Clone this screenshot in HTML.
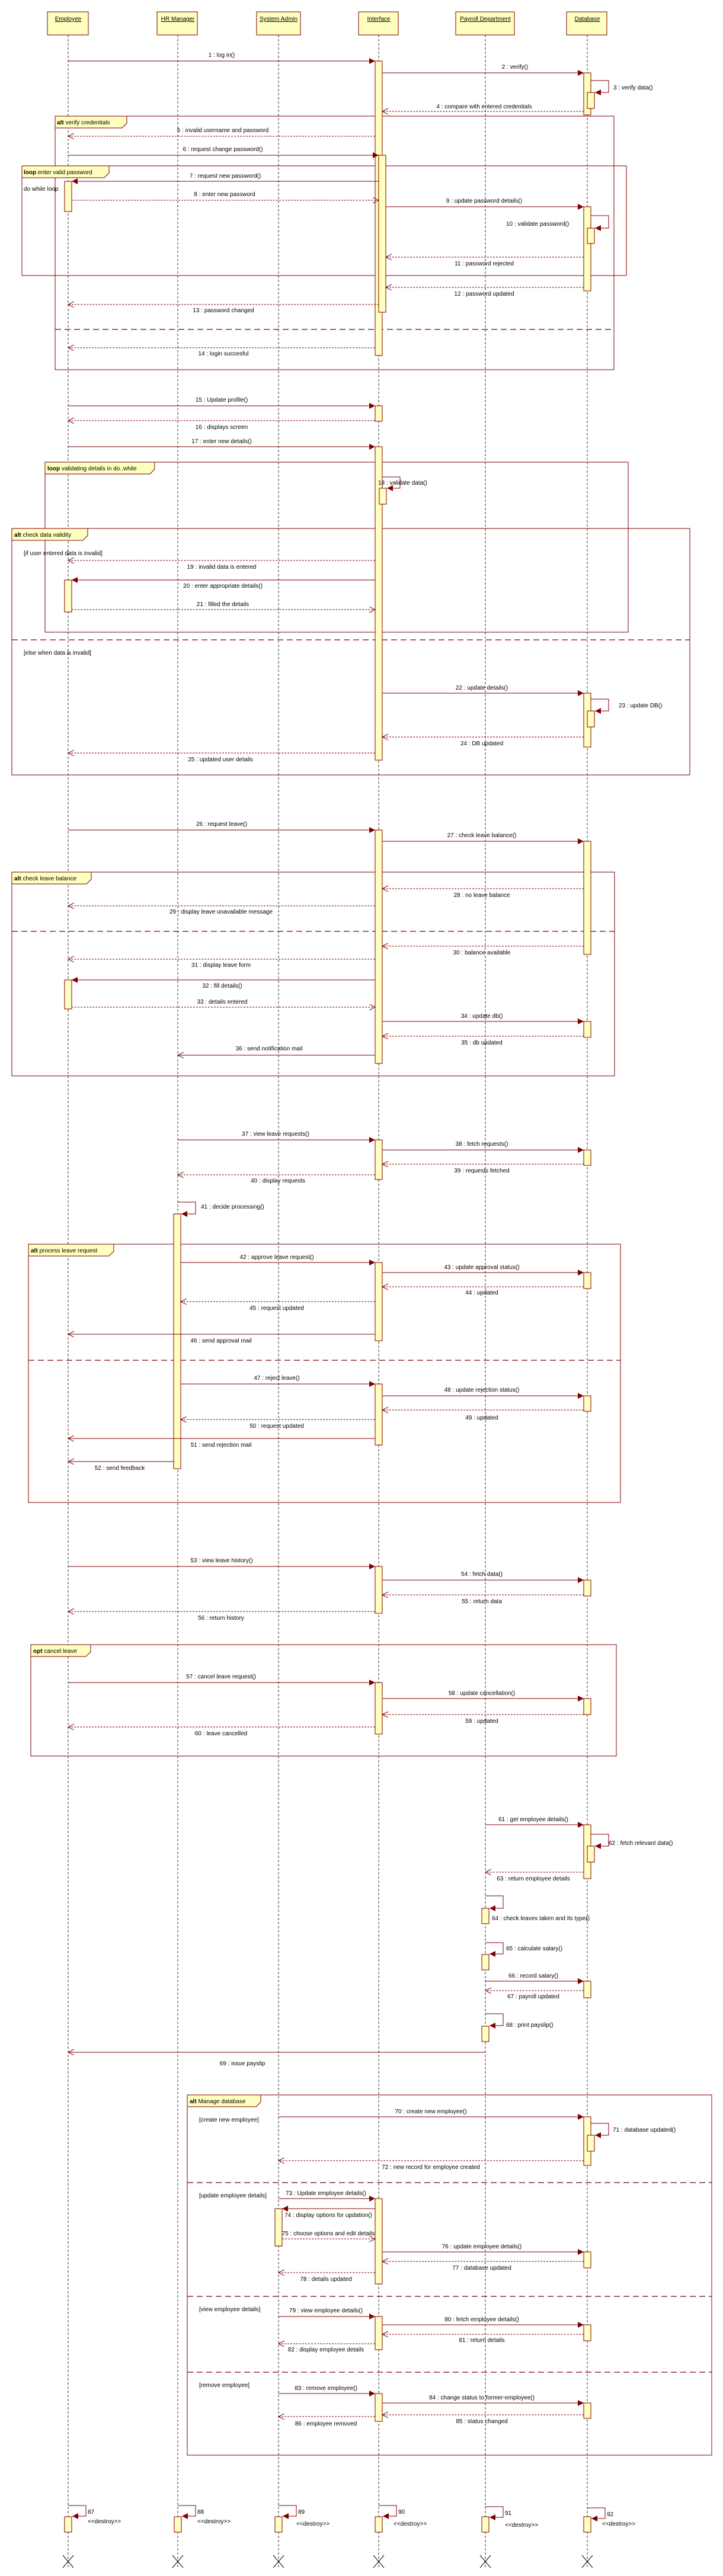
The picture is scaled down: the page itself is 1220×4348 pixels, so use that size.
<!DOCTYPE html>
<html><head><meta charset="utf-8"><style>
html,body{margin:0;padding:0;background:#fff}
svg{display:block}
text{font-family:"Liberation Sans",sans-serif;font-size:10px;fill:#000}
.t{text-anchor:middle}
.b{font-weight:bold}
.s{stroke:#800000;stroke-width:1;fill:none}
.r{stroke:#800000;stroke-width:1;fill:none;stroke-dasharray:3,2}
.ll{stroke:#000;stroke-width:0.8;stroke-dasharray:4,3}
.a{fill:#ffffc0;stroke:#800000;stroke-width:1}
.f{stroke:#800000;stroke-width:1;fill:none}
.dv{stroke:#800000;stroke-width:1.2;stroke-dasharray:10,6}
.tab{fill:#ffffc0;stroke:#800000;stroke-width:1}
</style></head><body>
<svg width="1220" height="4348" viewBox="0 0 1220 4348" xmlns="http://www.w3.org/2000/svg">
<defs>
<marker id="fa" markerUnits="userSpaceOnUse" markerWidth="12" markerHeight="12" refX="10" refY="5" orient="auto"><path d="M0,0 L10,5 L0,10 z" fill="#800000"/></marker>
<marker id="oa" markerUnits="userSpaceOnUse" markerWidth="12" markerHeight="12" refX="10" refY="5" orient="auto"><path d="M0,0 L10,5 L0,10" fill="none" stroke="#800000"/></marker>
</defs>

<g class="ll">
<line x1="115" y1="59" x2="115" y2="4334"/><line x1="300" y1="59" x2="300" y2="4334"/><line x1="470" y1="59" x2="470" y2="4334"/><line x1="639" y1="59" x2="639" y2="4334"/><line x1="819" y1="59" x2="819" y2="4334"/><line x1="991" y1="59" x2="991" y2="4334"/>
</g>

<g>
<rect class="a" x="80" y="20" width="69" height="39"/><text class="t" x="115" y="35" text-decoration="underline">Employee</text>
<rect class="a" x="265" y="20" width="68" height="39"/><text class="t" x="300" y="35" text-decoration="underline">HR Manager</text>
<rect class="a" x="433" y="20" width="74" height="39"/><text class="t" x="470" y="35" text-decoration="underline">System Admin</text>
<rect class="a" x="605" y="20" width="67" height="39"/><text class="t" x="639" y="35" text-decoration="underline">Interface</text>
<rect class="a" x="769" y="20" width="99" height="39"/><text class="t" x="819" y="35" text-decoration="underline">Payroll Department</text>
<rect class="a" x="956" y="20" width="68" height="39"/><text class="t" x="991" y="35" text-decoration="underline">Database</text>
</g>

<g>
<rect class="f" x="93" y="196" width="943" height="428"/><path class="tab" d="M93,196 H214 V208 L206,216 H93 z"/><text x="96" y="210"><tspan class="b">alt</tspan> verify credentials</text>
<line class="dv" x1="93" y1="556" x2="1036" y2="556"/>
<rect class="f" x="37" y="280" width="1020" height="185"/><path class="tab" d="M37,280 H184 V292 L176,300 H37 z"/><text x="40" y="294"><tspan class="b">loop</tspan> enter valid password</text>
<text x="40" y="322">do while loop</text>
<rect class="f" x="76" y="780" width="984" height="287"/><path class="tab" d="M76,780 H261 V792 L253,800 H76 z"/><text x="80" y="794"><tspan class="b">loop</tspan> validating details in do..while</text>
<rect class="f" x="20" y="892" width="1144" height="416"/><path class="tab" d="M20,892 H148 V904 L140,912 H20 z"/><text x="24" y="906"><tspan class="b">alt</tspan> check data validity</text>
<line class="dv" x1="20" y1="1080" x2="1164" y2="1080"/>
<text x="40" y="937">[if user entered data is invalid]</text>
<text x="40" y="1105">[else when data is invalid]</text>
<rect class="f" x="20" y="1472" width="1017" height="344"/><path class="tab" d="M20,1472 H154 V1484 L146,1492 H20 z"/><text x="24" y="1486"><tspan class="b">alt</tspan> check leave balance</text>
<line class="dv" x1="20" y1="1572" x2="1037" y2="1572"/>
<rect class="f" x="48" y="2100" width="999" height="436"/><path class="tab" d="M48,2100 H192 V2112 L184,2120 H48 z"/><text x="52" y="2114"><tspan class="b">alt</tspan> process leave request</text>
<line class="dv" x1="48" y1="2296" x2="1047" y2="2296"/>
<rect class="f" x="52" y="2776" width="988" height="188"/><path class="tab" d="M52,2776 H153 V2788 L145,2796 H52 z"/><text x="56" y="2790"><tspan class="b">opt</tspan> cancel leave</text>
<rect class="f" x="316" y="3536" width="885" height="608"/><path class="tab" d="M316,3536 H440 V3548 L432,3556 H316 z"/><text x="320" y="3550"><tspan class="b">alt</tspan> Manage database</text>
<line class="dv" x1="316" y1="3684" x2="1201" y2="3684"/><line class="dv" x1="316" y1="3876" x2="1201" y2="3876"/><line class="dv" x1="316" y1="4004" x2="1201" y2="4004"/>
<text x="336" y="3581">[create new employee]</text><text x="336" y="3709">[update employee details]</text><text x="336" y="3901">[view employee details]</text><text x="336" y="4029">[remove employee]</text>
</g>

<g class="a">
<rect x="633" y="103" width="12" height="497"/>
<rect x="985" y="123" width="12" height="71"/><rect x="991" y="156" width="12" height="27"/>
<rect x="639" y="262" width="12" height="265"/>
<rect x="109" y="306" width="12" height="51"/>
<rect x="985" y="349" width="12" height="142"/><rect x="991" y="385" width="12" height="26"/>
<rect x="633" y="685" width="12" height="26"/>
<rect x="633" y="754" width="12" height="529"/><rect x="640" y="824" width="12" height="27"/>
<rect x="109" y="979" width="12" height="54"/>
<rect x="985" y="1170" width="12" height="91"/><rect x="991" y="1200" width="12" height="27"/>
<rect x="633" y="1401" width="12" height="394"/>
<rect x="985" y="1420" width="12" height="191"/>
<rect x="109" y="1654" width="12" height="49"/>
<rect x="985" y="1724" width="12" height="27"/>
<rect x="633" y="1924" width="12" height="67"/>
<rect x="985" y="1941" width="12" height="26"/>
<rect x="293" y="2049" width="12" height="430"/>
<rect x="633" y="2131" width="12" height="132"/>
<rect x="985" y="2148" width="12" height="27"/>
<rect x="633" y="2336" width="12" height="103"/>
<rect x="985" y="2356" width="12" height="26"/>
<rect x="633" y="2644" width="12" height="79"/>
<rect x="985" y="2667" width="12" height="27"/>
<rect x="633" y="2840" width="12" height="87"/>
<rect x="985" y="2867" width="12" height="27"/>
<rect x="985" y="3080" width="12" height="91"/><rect x="991" y="3116" width="12" height="27"/>
<rect x="813" y="3221" width="12" height="26"/>
<rect x="813" y="3299" width="12" height="26"/>
<rect x="985" y="3344" width="12" height="28"/>
<rect x="813" y="3420" width="12" height="26"/>
<rect x="985" y="3573" width="12" height="82"/><rect x="991" y="3604" width="12" height="27"/>
<rect x="633" y="3711" width="12" height="144"/>
<rect x="464" y="3728" width="12" height="63"/>
<rect x="985" y="3801" width="12" height="27"/>
<rect x="633" y="3910" width="12" height="56"/>
<rect x="985" y="3924" width="12" height="27"/>
<rect x="633" y="4040" width="12" height="47"/>
<rect x="985" y="4056" width="12" height="26"/>
<rect x="109" y="4248" width="12" height="26"/><rect x="294" y="4248" width="12" height="26"/><rect x="464" y="4248" width="12" height="26"/><rect x="633" y="4248" width="12" height="26"/><rect x="813" y="4248" width="12" height="26"/><rect x="985" y="4248" width="12" height="26"/>
</g>

<g class="s">
<path d="M997,136 H1027 V156 H1004" marker-end="url(#fa)"/>
<path d="M997,364 H1027 V385 H1004" marker-end="url(#fa)"/>
<path d="M645,805 H675 V824 H653" marker-end="url(#fa)"/>
<path d="M997,1180 H1027 V1200 H1004" marker-end="url(#fa)"/>
<path d="M300,2029 H330 V2049 H306" marker-end="url(#fa)"/>
<path d="M997,3096 H1027 V3116 H1004" marker-end="url(#fa)"/>
<path d="M819,3200 H849 V3221 H826" marker-end="url(#fa)"/>
<path d="M819,3279 H849 V3298 H826" marker-end="url(#fa)"/>
<path d="M819,3399 H849 V3419 H826" marker-end="url(#fa)"/>
<path d="M997,3584 H1027 V3604 H1004" marker-end="url(#fa)"/>
<path d="M115,4229 H145 V4247 H122" marker-end="url(#fa)"/>
<path d="M300,4229 H330 V4247 H307" marker-end="url(#fa)"/>
<path d="M470,4229 H500 V4247 H477" marker-end="url(#fa)"/>
<path d="M639,4229 H669 V4247 H646" marker-end="url(#fa)"/>
<path d="M819,4231 H849 V4249 H826" marker-end="url(#fa)"/>
<path d="M991,4233 H1021 V4251 H998" marker-end="url(#fa)"/>
</g>

<g class="s">
<line x1="115" y1="103" x2="633" y2="103" marker-end="url(#fa)"/>
<line x1="645" y1="123" x2="985" y2="123" marker-end="url(#fa)"/>
<line x1="115" y1="262" x2="639" y2="262" marker-end="url(#fa)"/>
<line x1="639" y1="306" x2="121" y2="306" marker-end="url(#fa)"/>
<line x1="651" y1="349" x2="985" y2="349" marker-end="url(#fa)"/>
<line x1="115" y1="685" x2="633" y2="685" marker-end="url(#fa)"/>
<line x1="115" y1="754" x2="633" y2="754" marker-end="url(#fa)"/>
<line x1="633" y1="979" x2="121" y2="979" marker-end="url(#fa)"/>
<line x1="645" y1="1170" x2="985" y2="1170" marker-end="url(#fa)"/>
<line x1="115" y1="1401" x2="633" y2="1401" marker-end="url(#fa)"/>
<line x1="645" y1="1420" x2="985" y2="1420" marker-end="url(#fa)"/>
<line x1="633" y1="1654" x2="121" y2="1654" marker-end="url(#fa)"/>
<line x1="645" y1="1724" x2="985" y2="1724" marker-end="url(#fa)"/>
<line x1="633" y1="1781" x2="300" y2="1781" marker-end="url(#oa)"/>
<line x1="300" y1="1924" x2="633" y2="1924" marker-end="url(#fa)"/>
<line x1="645" y1="1941" x2="985" y2="1941" marker-end="url(#fa)"/>
<line x1="305" y1="2131" x2="633" y2="2131" marker-end="url(#fa)"/>
<line x1="645" y1="2148" x2="985" y2="2148" marker-end="url(#fa)"/>
<line x1="633" y1="2252" x2="115" y2="2252" marker-end="url(#oa)"/>
<line x1="305" y1="2336" x2="633" y2="2336" marker-end="url(#fa)"/>
<line x1="645" y1="2356" x2="985" y2="2356" marker-end="url(#fa)"/>
<line x1="633" y1="2428" x2="115" y2="2428" marker-end="url(#oa)"/>
<line x1="293" y1="2467" x2="115" y2="2467" marker-end="url(#oa)"/>
<line x1="115" y1="2644" x2="633" y2="2644" marker-end="url(#fa)"/>
<line x1="645" y1="2667" x2="985" y2="2667" marker-end="url(#fa)"/>
<line x1="115" y1="2840" x2="633" y2="2840" marker-end="url(#fa)"/>
<line x1="645" y1="2867" x2="985" y2="2867" marker-end="url(#fa)"/>
<line x1="819" y1="3080" x2="985" y2="3080" marker-end="url(#fa)"/>
<line x1="819" y1="3344" x2="985" y2="3344" marker-end="url(#fa)"/>
<line x1="819" y1="3464" x2="115" y2="3464" marker-end="url(#oa)"/>
<line x1="470" y1="3573" x2="985" y2="3573" marker-end="url(#fa)"/>
<line x1="470" y1="3711" x2="633" y2="3711" marker-end="url(#fa)"/>
<line x1="633" y1="3728" x2="476" y2="3728" marker-end="url(#fa)"/>
<line x1="645" y1="3801" x2="985" y2="3801" marker-end="url(#fa)"/>
<line x1="470" y1="3910" x2="633" y2="3910" marker-end="url(#fa)"/>
<line x1="645" y1="3924" x2="985" y2="3924" marker-end="url(#fa)"/>
<line x1="470" y1="4040" x2="633" y2="4040" marker-end="url(#fa)"/>
<line x1="645" y1="4056" x2="985" y2="4056" marker-end="url(#fa)"/>
</g>

<g class="r">
<line x1="985" y1="188" x2="645" y2="188" marker-end="url(#oa)"/>
<line x1="633" y1="230" x2="115" y2="230" marker-end="url(#oa)"/>
<line x1="121" y1="338" x2="639" y2="338" marker-end="url(#oa)"/>
<line x1="985" y1="434" x2="651" y2="434" marker-end="url(#oa)"/>
<line x1="985" y1="485" x2="651" y2="485" marker-end="url(#oa)"/>
<line x1="639" y1="514" x2="115" y2="514" marker-end="url(#oa)"/>
<line x1="633" y1="587" x2="115" y2="587" marker-end="url(#oa)"/>
<line x1="633" y1="710" x2="115" y2="710" marker-end="url(#oa)"/>
<line x1="633" y1="946" x2="115" y2="946" marker-end="url(#oa)"/>
<line x1="121" y1="1029" x2="633" y2="1029" marker-end="url(#oa)"/>
<line x1="985" y1="1244" x2="645" y2="1244" marker-end="url(#oa)"/>
<line x1="633" y1="1271" x2="115" y2="1271" marker-end="url(#oa)"/>
<line x1="985" y1="1500" x2="645" y2="1500" marker-end="url(#oa)"/>
<line x1="633" y1="1529" x2="115" y2="1529" marker-end="url(#oa)"/>
<line x1="985" y1="1597" x2="645" y2="1597" marker-end="url(#oa)"/>
<line x1="633" y1="1619" x2="115" y2="1619" marker-end="url(#oa)"/>
<line x1="121" y1="1700" x2="633" y2="1700" marker-end="url(#oa)"/>
<line x1="985" y1="1749" x2="645" y2="1749" marker-end="url(#oa)"/>
<line x1="985" y1="1965" x2="645" y2="1965" marker-end="url(#oa)"/>
<line x1="633" y1="1983" x2="300" y2="1983" marker-end="url(#oa)"/>
<line x1="985" y1="2172" x2="645" y2="2172" marker-end="url(#oa)"/>
<line x1="633" y1="2197" x2="305" y2="2197" marker-end="url(#oa)"/>
<line x1="985" y1="2380" x2="645" y2="2380" marker-end="url(#oa)"/>
<line x1="633" y1="2396" x2="305" y2="2396" marker-end="url(#oa)"/>
<line x1="985" y1="2692" x2="645" y2="2692" marker-end="url(#oa)"/>
<line x1="633" y1="2720" x2="115" y2="2720" marker-end="url(#oa)"/>
<line x1="985" y1="2894" x2="645" y2="2894" marker-end="url(#oa)"/>
<line x1="633" y1="2915" x2="115" y2="2915" marker-end="url(#oa)"/>
<line x1="985" y1="3160" x2="819" y2="3160" marker-end="url(#oa)"/>
<line x1="985" y1="3360" x2="819" y2="3360" marker-end="url(#oa)"/>
<line x1="985" y1="3647" x2="470" y2="3647" marker-end="url(#oa)"/>
<line x1="476" y1="3779" x2="633" y2="3779" marker-end="url(#oa)"/>
<line x1="985" y1="3817" x2="645" y2="3817" marker-end="url(#oa)"/>
<line x1="633" y1="3836" x2="470" y2="3836" marker-end="url(#oa)"/>
<line x1="985" y1="3940" x2="645" y2="3940" marker-end="url(#oa)"/>
<line x1="633" y1="3956" x2="470" y2="3956" marker-end="url(#oa)"/>
<line x1="985" y1="4076" x2="645" y2="4076" marker-end="url(#oa)"/>
<line x1="633" y1="4079" x2="470" y2="4079" marker-end="url(#oa)"/>
</g>

<g>
<text class="t" x="374" y="96">1 : log in()</text>
<text class="t" x="869" y="116">2 : verify()</text>
<text x="1035" y="151">3 : verify data()</text>
<text class="t" x="817" y="183">4 : compare with entered credentials</text>
<text class="t" x="376" y="223">5 : invalid username and password</text>
<text class="t" x="376" y="255">6 : request change password()</text>
<text class="t" x="380" y="300">7 : request new password()</text>
<text class="t" x="379" y="331">8 : enter new password</text>
<text class="t" x="817" y="342">9 : update password details()</text>
<text x="854" y="381">10 : validate password()</text>
<text class="t" x="817" y="448">11 : password rejected</text>
<text class="t" x="817" y="499">12 : password updated</text>
<text class="t" x="377" y="527">13 : password changed</text>
<text class="t" x="377" y="600">14 : login succesful</text>
<text class="t" x="374" y="678">15 : Update profile()</text>
<text class="t" x="374" y="724">16 : displays screen</text>
<text class="t" x="374" y="748">17 : enter new details()</text>
<text x="638" y="818">18 : validate data()</text>
<text class="t" x="374" y="960">19 : invalid data is entered</text>
<text class="t" x="376" y="992">20 : enter appropriate details()</text>
<text class="t" x="376" y="1023">21 : filled the details</text>
<text class="t" x="813" y="1164">22 : update details()</text>
<text x="1044" y="1194">23 : update DB()</text>
<text class="t" x="813" y="1258">24 : DB updated</text>
<text class="t" x="372" y="1285">25 : updated user details</text>
<text class="t" x="374" y="1394">26 : request leave()</text>
<text class="t" x="813" y="1413">27 : check leave balance()</text>
<text class="t" x="813" y="1514">28 : no leave balance</text>
<text class="t" x="373" y="1542">29 : display leave unavailable message</text>
<text class="t" x="813" y="1611">30 : balance available</text>
<text class="t" x="373" y="1632">31 : display leave form</text>
<text class="t" x="375" y="1667">32 : fill details()</text>
<text class="t" x="375" y="1694">33 : details entered</text>
<text class="t" x="813" y="1718">34 : update db()</text>
<text class="t" x="813" y="1763">35 : db updated</text>
<text class="t" x="454" y="1773">36 : send notification mail</text>
<text class="t" x="465" y="1917">37 : view leave requests()</text>
<text class="t" x="813" y="1934">38 : fetch requests()</text>
<text class="t" x="813" y="1979">39 : requests fetched</text>
<text class="t" x="469" y="1996">40 : display requests</text>
<text x="339" y="2040">41 : decide processing()</text>
<text class="t" x="467" y="2125">42 : approve leave request()</text>
<text class="t" x="813" y="2142">43 : update approval status()</text>
<text class="t" x="813" y="2185">44 : updated</text>
<text class="t" x="467" y="2211">45 : request updated</text>
<text class="t" x="373" y="2266">46 : send approval mail</text>
<text class="t" x="467" y="2329">47 : reject leave()</text>
<text class="t" x="813" y="2349">48 : update rejection status()</text>
<text class="t" x="813" y="2396">49 : updated</text>
<text class="t" x="467" y="2410">50 : request updated</text>
<text class="t" x="373" y="2442">51 : send rejection mail</text>
<text class="t" x="202" y="2481">52 : send feedback</text>
<text class="t" x="374" y="2637">53 : view leave history()</text>
<text class="t" x="813" y="2660">54 : fetch data()</text>
<text class="t" x="813" y="2706">55 : return data</text>
<text class="t" x="373" y="2734">56 : return history</text>
<text class="t" x="373" y="2833">57 : cancel leave request()</text>
<text class="t" x="813" y="2861">58 : update cancellation()</text>
<text class="t" x="813" y="2908">59 : updated</text>
<text class="t" x="373" y="2929">60 : leave cancelled</text>
<text class="t" x="900" y="3074">61 : get employee details()</text>
<text x="1027" y="3114">62 : fetch relevant data()</text>
<text class="t" x="900" y="3174">63 : return employee details</text>
<text x="830" y="3241">64 : check leaves taken and its type()</text>
<text x="854" y="3292">65 : calculate salary()</text>
<text class="t" x="900" y="3338">66 : record salary()</text>
<text class="t" x="900" y="3373">67 : payroll updated</text>
<text x="854" y="3421">68 : print payslip()</text>
<text class="t" x="409" y="3486">69 : issue payslip</text>
<text class="t" x="727" y="3567">70 : create new employee()</text>
<text x="1034" y="3598">71 : database updated()</text>
<text class="t" x="727" y="3661">72 : new record for employee created</text>
<text class="t" x="550" y="3705">73 : Update employee details()</text>
<text class="t" x="554" y="3742">74 : display options for updation()</text>
<text class="t" x="554" y="3773">75 : choose options and edit details</text>
<text class="t" x="813" y="3795">76 : update employee details()</text>
<text class="t" x="813" y="3831">77 : database updated</text>
<text class="t" x="550" y="3850">78 : details updated</text>
<text class="t" x="550" y="3903">79 : view employee details()</text>
<text class="t" x="813" y="3918">80 : fetch employee details()</text>
<text class="t" x="813" y="3953">81 : return details</text>
<text class="t" x="550" y="3969">82 : display employee details</text>
<text class="t" x="550" y="4034">83 : remove employee()</text>
<text class="t" x="813" y="4050">84 : change status to former-employee()</text>
<text class="t" x="813" y="4090">85 : status changed</text>
<text class="t" x="550" y="4094">86 : employee removed</text>
</g>

<g>
<text x="148" y="4243">87</text><text x="148" y="4259">&lt;&lt;destroy&gt;&gt;</text>
<text x="333" y="4243">88</text><text x="333" y="4259">&lt;&lt;destroy&gt;&gt;</text>
<text x="503" y="4243">89</text><text x="500" y="4263">&lt;&lt;destroy&gt;&gt;</text>
<text x="672" y="4243">90</text><text x="664" y="4263">&lt;&lt;destroy&gt;&gt;</text>
<text x="852" y="4245">91</text><text x="852" y="4265">&lt;&lt;destroy&gt;&gt;</text>
<text x="1024" y="4247">92</text><text x="1016" y="4263">&lt;&lt;destroy&gt;&gt;</text>
</g>
<g stroke="#000" stroke-width="1">
<path d="M106,4313 L124,4334 M124,4313 L106,4334"/>
<path d="M291,4313 L309,4334 M309,4313 L291,4334"/>
<path d="M461,4313 L479,4334 M479,4313 L461,4334"/>
<path d="M630,4313 L648,4334 M648,4313 L630,4334"/>
<path d="M810,4313 L828,4334 M828,4313 L810,4334"/>
<path d="M982,4313 L1000,4334 M1000,4313 L982,4334"/>
</g>
</svg>
</body></html>
